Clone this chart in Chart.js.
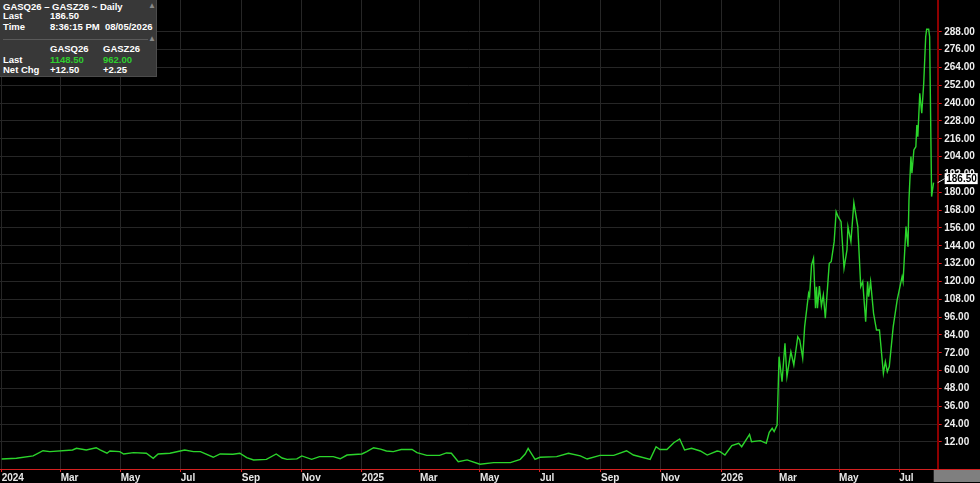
<!DOCTYPE html>
<html>
<head>
<meta charset="utf-8">
<script src="https://cdn.jsdelivr.net/npm/chart.js@4.4.1/dist/chart.umd.min.js"></script>
<style>
html, body { margin: 0; padding: 0; background: #000; }
#wrap { position: relative; width: 980px; height: 483px; }
#info {
    position: absolute; left: 0; top: 0; width: 156px; height: 76px;
    background: #383838; border-right: 1px solid #4c4c4c; border-bottom: 1px solid #4c4c4c;
    font: bold 9.5px "Liberation Sans", Arial, sans-serif; color: #fff;
}
#info div { position: absolute; white-space: nowrap; line-height: 10px; }
#info .g { color: #2fcf2f; }
#info .sep { left: 3px; width: 145px; top: 39px; height: 1px; background: #5a5a5a; }
#info .arr { color: #8a8a8a; font-size: 8px; left: 148px; }
</style>
</head>
<body>
<div id="wrap">
    <canvas id="chart" width="980" height="483"></canvas>
    <div id="info">
        <div style="left:3px;top:2px">GASQ26 – GASZ26 ~ Daily</div>
        <div class="arr" style="top:1px">▲</div>
        <div style="left:3px;top:11px">Last</div>
        <div style="left:50px;top:11px">186.50</div>
        <div style="left:3px;top:22px">Time</div>
        <div style="left:50px;top:22px">8:36:15 PM&nbsp; 08/05/2026</div>
        <div class="sep"></div>
        <div class="arr" style="top:34px">▲</div>
        <div style="left:50px;top:44px">GASQ26</div>
        <div style="left:103px;top:44px">GASZ26</div>
        <div style="left:3px;top:55px">Last</div>
        <div class="g" style="left:50px;top:55px">1148.50</div>
        <div class="g" style="left:103px;top:55px">962.00</div>
        <div style="left:3px;top:65px">Net Chg</div>
        <div style="left:50px;top:65px">+12.50</div>
        <div style="left:103px;top:65px">+2.25</div>
    </div>
</div>
<script>
// days counted from 2024-01-01
const days = [0, 15, 32, 42, 49, 72, 76, 86, 96, 100, 107, 110, 120, 124, 134, 147, 154, 159, 171, 186,
    195, 202, 215, 222, 235, 242, 249, 256, 269, 279, 285, 290, 300, 305, 315, 323, 337, 344, 351, 366,
    371, 378, 385, 391, 398, 406, 417, 422, 432, 445, 452, 457, 464, 473, 486, 500, 517, 527, 532, 535,
    542, 547, 564, 576, 588, 595, 608, 622, 635, 642, 659, 665, 669, 676, 683, 689, 694, 701, 710, 717,
    727, 730, 735, 742, 749, 752, 760, 762, 771, 777, 780, 783, 785, 788, 790, 793, 796, 798, 802, 805,
    809, 811, 814, 816, 820, 821, 823, 825, 827, 828, 829, 831, 833, 835, 837, 841, 843, 846, 848, 850,
    853, 856, 859, 860, 863, 866, 870, 873, 875, 878, 880, 881, 883, 886, 889, 892, 896, 898, 900, 902,
    906, 910, 915, 916, 919, 921, 922, 924, 925, 927, 929, 930, 931, 933, 935, 937, 939, 940, 942, 943,
    945, 947];
const spread = [0.5, 1.0, 2.6, 6.1, 5.5, 6.6, 7.7, 6.6, 8.1, 6.6, 4.4, 5.9, 5.5, 3.9, 4.8, 4.4, 1.0, 3.9, 4.4, 6.6,
    5.5, 5.5, 1.7, 3.9, 3.7, 4.4, 1.4, -0.1, 0.3, 3.9, 1.2, 0.3, 0.6, 2.6, 0.3, 2.1, 2.1, 0.7, 3.2, 3.9,
    5.5, 8.1, 7.2, 5.9, 5.5, 6.9, 6.9, 4.8, 3.0, 3.0, 4.6, 4.4, -1.3, -0.1, -3.0, -1.9, -1.9, 0.3, 3.9, 7.7,
    0.3, 1.7, 2.1, 4.4, 2.6, 0.5, 3.0, 3.0, 6.1, 3.2, 0.3, 8.8, 6.9, 6.9, 11.5, 14.0, 6.6, 7.7, 5.9, 3.2,
    5.9, 5.5, 3.2, 9.5, 11.1, 8.8, 17.1, 12.2, 12.9, 11.1, 18.5, 21.2, 19.0, 23.4, 69.4, 52.6, 78.4, 55.9, 72.7, 63.8,
    82.8, 80.6, 68.3, 89.6, 112.0, 109.8, 131.1, 135.6, 102.0, 116.5, 102.0, 116.9, 103.5, 110.9, 95.2, 132.2, 133.3, 146.8, 167.0, 163.6,
    160.2, 128.9, 141.2, 156.9, 146.8, 173.0, 156.9, 116.5, 119.9, 92.9, 119.9, 109.8, 119.9, 98.6, 87.3, 87.3, 58.2, 66.0, 59.3, 62.7,
    89.6, 107.5, 123.2, 119.9, 156.9, 143.4, 174.8, 204.0, 192.8, 208.5, 210.7, 225.3, 217.4, 246.6, 233.2, 253.4, 284.7, 289.7, 289.7, 284.7,
    177.1, 186.5];

const tickDays = [0, 60, 121, 182, 244, 305, 366, 425, 486, 547, 609, 670, 731, 790, 851, 912];
const tickLabels = ["2024", "Mar", "May", "Jul", "Sep", "Nov", "2025", "Mar", "May", "Jul", "Sep", "Nov", "2026", "Mar", "May", "Jul"];
const priceTicks = [12, 24, 36, 48, 60, 72, 84, 96, 108, 120, 132, 144, 156, 168, 180, 192, 204, 216, 228, 240, 252, 264, 276, 288];

const axisFont = { family: "'Liberation Sans', Arial, sans-serif", size: 10, weight: 'bold' };

const overlay = {
    id: 'overlay',
    afterDraw(chart) {
        const ctx = chart.ctx;
        const area = chart.chartArea;
        ctx.save();
        // scroll box bottom right
        ctx.fillStyle = '#7f7f7f';
        ctx.fillRect(area.right - 4, area.bottom + 1, 980 - area.right + 4, 12);
        // red baseline across
        ctx.strokeStyle = '#d42020';
        ctx.lineWidth = 1;
        ctx.beginPath();
        ctx.moveTo(0, area.bottom + 0.5);
        ctx.lineTo(980, area.bottom + 0.5);
        ctx.stroke();
        // last value marker
        const last = spread[spread.length - 1];
        const y = chart.scales.y.getPixelForValue(last);
        ctx.strokeStyle = '#cfcfcf';
        ctx.beginPath();
        ctx.moveTo(area.right, y);
        ctx.lineTo(area.right + 7, y - 4);
        ctx.stroke();
        ctx.fillStyle = '#fff';
        ctx.fillRect(area.right + 7, y - 9.5, 33, 11);
        ctx.fillStyle = '#000';
        ctx.font = "bold 10px 'Liberation Sans', Arial, sans-serif";
        ctx.textBaseline = 'middle';
        ctx.fillText(last.toFixed(2), area.right + 8.5, y - 3.8);
        ctx.restore();
    }
};

new Chart(document.getElementById('chart'), {
    type: 'line',
    data: {
        datasets: [{
            data: days.map((d, i) => ({ x: d, y: spread[i] })),
            borderColor: '#2bd42b',
            borderWidth: 1.4,
            pointRadius: 0,
            tension: 0,
            fill: false
        }]
    },
    options: {
        responsive: false,
        animation: false,
        layout: { padding: 0 },
        plugins: { legend: { display: false }, tooltip: { enabled: false } },
        scales: {
            x: {
                type: 'linear',
                min: -1.7,
                max: 951.2,
                afterBuildTicks: s => { s.ticks = tickDays.map(v => ({ value: v })); },
                afterFit: s => { s.height = 14; s.paddingLeft = 0; s.paddingRight = 0; },
                ticks: {
                    autoSkip: false,
                    maxRotation: 0,
                    align: 'start',
                    padding: 0,
                    color: '#e6e6e6',
                    font: axisFont,
                    callback: (v, i) => tickLabels[i]
                },
                grid: { color: '#262626', tickColor: '#e02020', tickLength: 3 },
                border: { color: '#d42020', width: 1 }
            },
            y: {
                position: 'right',
                min: -6.2,
                max: 309.4,
                afterBuildTicks: s => { s.ticks = priceTicks.map(v => ({ value: v })); },
                afterFit: s => { s.width = 42.3; s.paddingTop = 0; s.paddingBottom = 0; },
                ticks: {
                    padding: 2.5,
                    color: '#f0f0f0',
                    font: axisFont,
                    callback: v => Number(v).toFixed(2)
                },
                grid: { color: '#262626', tickColor: '#e02020', tickLength: 4 },
                border: { color: '#8e0000', width: 2 }
            }
        }
    },
    plugins: [overlay]
});
</script>
</body>
</html>
